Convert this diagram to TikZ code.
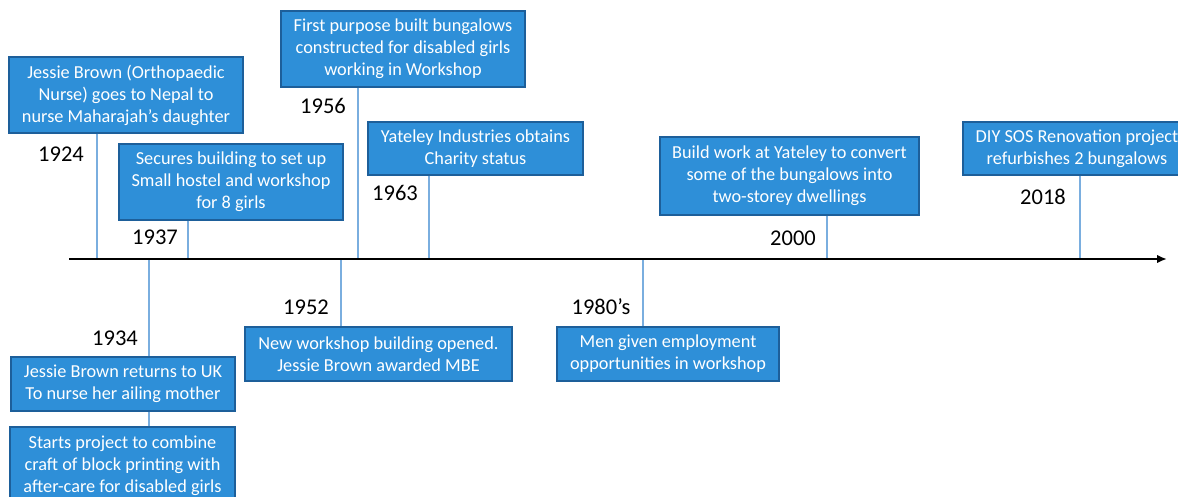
\documentclass[tikz,border=0pt]{standalone}
\usepackage{fontspec}
\setmainfont{Carlito}
\usepackage{xcolor}
\usetikzlibrary{arrows.meta}
\definecolor{ylBlue}{HTML}{2E8FD8}
\definecolor{ylEdge}{HTML}{1D5F9A}
\definecolor{ylLink}{HTML}{7AAEDF}

\begin{document}
\begin{tikzpicture}[x=0.025cm,y=-0.025cm]
    \pgfmathsetmacro{\px}{0.025}
    \tikzset{
        event/.style 2 args={draw=ylEdge,fill=ylBlue,line width=1pt,text=white,align=center,inner sep=0pt,
            minimum width=#1*\px cm,minimum height=#2*\px cm,font=\fontsize{13}{15.6}\selectfont},
        year/.style={font=\fontsize{16}{19}\selectfont},
        link/.style={ylLink,line width=0.8pt}
    };
    \clip (0,0) rectangle (1178,497);
    \node[event={234}{76}] (b1924) at (126,95) {Jessie Brown (Orthopaedic\\Nurse) goes to Nepal to\\nurse Maharajah’s daughter};
    \node[event={224}{76}] (b1937) at (231,182) {Secures building to set up\\Small hostel and workshop\\for 8 girls};
    \node[event={244}{76}] (b1956) at (403,49) {First purpose built bungalows\\constructed for disabled girls\\working in Workshop};
    \node[event={215}{53}] (b1963) at (475.5,148.5) {Yateley Industries obtains\\Charity status};
    \node[event={259}{78}] (b2000) at (789.5,176) {Build work at Yateley to convert\\some of the bungalows into\\two-storey dwellings};
    \node[event={228}{53}] (b2018) at (1077,148.5) {DIY SOS Renovation project\\refurbishes 2 bungalows};
    \node[event={224}{54}] (b1934) at (123,384) {Jessie Brown returns to UK\\To nurse her ailing mother};
    \node[event={225}{77}] (b1934b) at (122.5,465.5) {Starts project to combine\\craft of block printing with\\after-care for disabled girls};
    \node[event={267}{54}] (b1952) at (378.5,354) {New workshop building opened.\\Jessie Brown awarded MBE};
    \node[event={222}{54}] (b1980) at (668,354) {Men given employment\\opportunities in workshop};
    \foreach \yr/\xpos/\ypos in {1924/61/154,1937/155/237,1956/323/106,1963/395/193,2000/793/238,2018/1043/197,1934/115/338,1952/306/307}
        \node[year] (y\yr) at (\xpos,\ypos) {\yr};
    \node[year] (y1980) at (601,307) {1980’s};
    \coordinate (tl) at (69,259);
    \coordinate (tr) at (1167,259);
    \foreach \yr/\xpos in {1924/97,1937/188,1956/358,1963/429,2000/827,2018/1080,1934/149,1952/341,1980/643}
        \coordinate (t\yr) at (\xpos,259);
    \foreach \yr in {1924,1937,1956,1963,2000,2018}
        \draw[link] (b\yr.south -| t\yr) -- (t\yr);
    \foreach \yr in {1934,1952,1980}
        \draw[link] (t\yr) -- (b\yr.north -| t\yr);
    \draw[link] (b1934.south -| t1934) -- (b1934b.north -| t1934);
    \draw[line width=2.1pt,-{Latex[length=7pt,width=6pt]}] (tl) -- (tr);
\end{tikzpicture}
\end{document}
